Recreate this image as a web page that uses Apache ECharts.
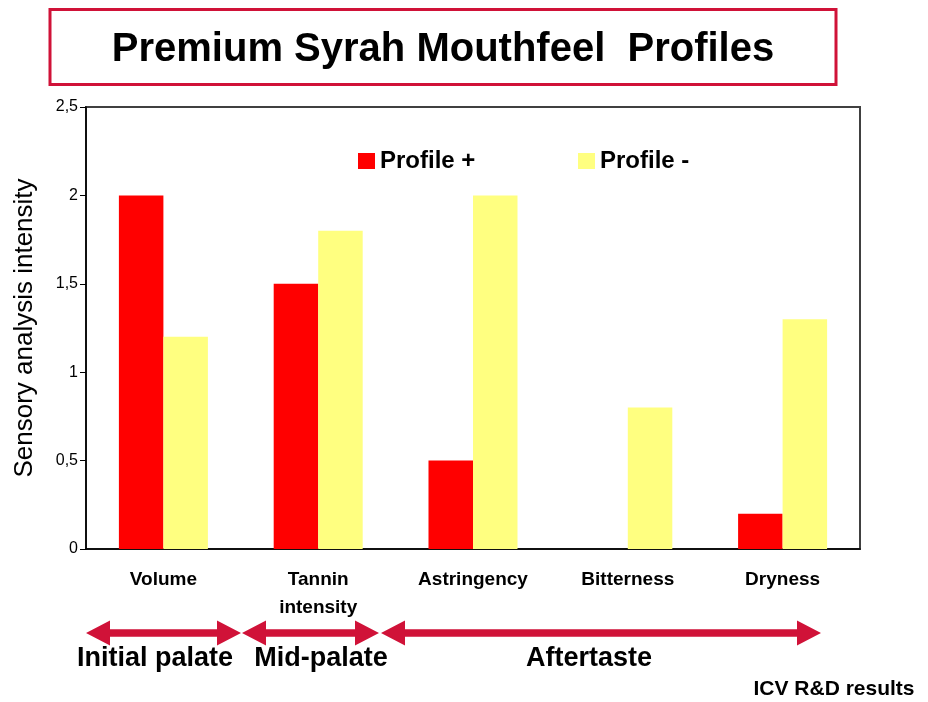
<!DOCTYPE html>
<html>
<head>
<meta charset="utf-8">
<script src="https://cdn.jsdelivr.net/npm/echarts@6/dist/echarts.min.js"></script>
<style>
  html, body { margin: 0; padding: 0; background: #fff; }
  #chart { width: 928px; height: 702px; }
</style>
</head>
<body>
<div id="chart"></div>
<script>
// data
const categories = ["Volume", "Tannin\nintensity", "Astringency", "Bitterness", "Dryness"];
const profilePlus = [2, 1.5, 0.5, 0, 0.2];
const profileMinus = [1.2, 1.8, 2, 0.8, 1.3];
const yTicks = [0, 0.5, 1, 1.5, 2, 2.5];

const FONT = "Liberation Sans, Arial, sans-serif";
const CRIMSON = "#D01238";

// double headed arrow polygon (annotation only, not data)
function arrow(a, b, y) {
  const h = 24, half = 12.5, s = 3.75;
  return [
    [a, y], [a + h, y - half], [a + h, y - s], [b - h, y - s], [b - h, y - half],
    [b, y], [b - h, y + half], [b - h, y + s], [a + h, y + s], [a + h, y + half]
  ];
}

const chart = echarts.init(document.getElementById("chart"));

const option = {
  backgroundColor: "#fff",
  animation: false,
  grid: {
    left: 86, right: 68, top: 107, bottom: 153,
    containLabel: false, outerBoundsMode: "none",
    show: true, borderColor: "#404040", borderWidth: 2, backgroundColor: "transparent"
  },
  legend: [
    {
      data: ["Profile +"], left: 353, top: 144,
      itemWidth: 17, itemHeight: 16, itemGap: 0,
      icon: "rect",
      textStyle: { fontFamily: FONT, fontSize: 24, fontWeight: "bold", color: "#000" }
    },
    {
      data: ["Profile -"], left: 573, top: 144,
      itemWidth: 17, itemHeight: 16, itemGap: 0,
      icon: "rect",
      textStyle: { fontFamily: FONT, fontSize: 24, fontWeight: "bold", color: "#000" }
    }
  ],
  xAxis: {
    type: "category",
    data: categories,
    axisLine: { lineStyle: { color: "#000", width: 1.5 } },
    axisTick: { length: 6, lineStyle: { color: "#000" } },
    axisLabel: {
      margin: 17, fontFamily: FONT, fontSize: 19, fontWeight: "bold",
      color: "#000", lineHeight: 28
    }
  },
  yAxis: {
    type: "value",
    min: yTicks[0], max: yTicks[yTicks.length - 1], interval: 0.5,
    name: "Sensory analysis intensity",
    nameLocation: "middle",
    nameGap: 48,
    nameTextStyle: { fontFamily: FONT, fontSize: 26, color: "#000" },
    axisLine: { show: true, lineStyle: { color: "#000", width: 1.5 } },
    axisTick: { show: true, length: 6, lineStyle: { color: "#000" } },
    splitLine: { show: false },
    axisLabel: {
      margin: 8, fontFamily: FONT, fontSize: 16, color: "#000",
      formatter: v => String(v).replace(".", ",")
    }
  },
  series: [
    {
      name: "Profile +", type: "bar", data: profilePlus,
      itemStyle: { color: "#FF0000" },
      barGap: "0%", barCategoryGap: "42.5%"
    },
    {
      name: "Profile -", type: "bar", data: profileMinus,
      itemStyle: { color: "#FFFF80" },
      barGap: "0%", barCategoryGap: "42.5%"
    }
  ],
  graphic: [
    {
      type: "rect", shape: { x: 50, y: 9.5, width: 786, height: 75 },
      style: { fill: "#fff", stroke: CRIMSON, lineWidth: 3 }
    },
    {
      type: "text", x: 443, y: 50,
      style: {
        text: "Premium Syrah Mouthfeel  Profiles", fill: "#000",
        font: "bold 40px " + FONT, textAlign: "center", textVerticalAlign: "middle"
      }
    },
    { type: "polygon", shape: { points: arrow(86, 241, 633) }, style: { fill: CRIMSON } },
    { type: "polygon", shape: { points: arrow(242, 379, 633) }, style: { fill: CRIMSON } },
    { type: "polygon", shape: { points: arrow(381, 821, 633) }, style: { fill: CRIMSON } },
    {
      type: "text", x: 155, y: 659,
      style: { text: "Initial palate", fill: "#000", font: "bold 27px " + FONT, textAlign: "center", textVerticalAlign: "middle" }
    },
    {
      type: "text", x: 321, y: 659,
      style: { text: "Mid-palate", fill: "#000", font: "bold 27px " + FONT, textAlign: "center", textVerticalAlign: "middle" }
    },
    {
      type: "text", x: 589, y: 659,
      style: { text: "Aftertaste", fill: "#000", font: "bold 27px " + FONT, textAlign: "center", textVerticalAlign: "middle" }
    },
    {
      type: "text", x: 834, y: 689,
      style: { text: "ICV R&D results", fill: "#000", font: "bold 21px " + FONT, textAlign: "center", textVerticalAlign: "middle" }
    }
  ]
};

chart.setOption(option);
</script>
</body>
</html>
